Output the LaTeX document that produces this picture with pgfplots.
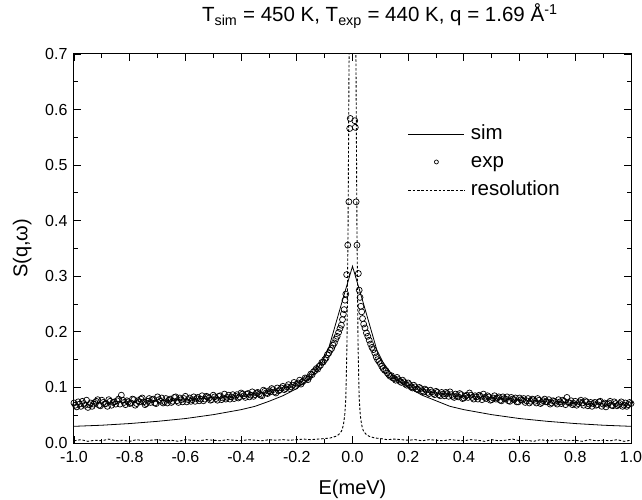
\documentclass[border=0pt]{standalone}
\usepackage{fontspec}
\setmainfont{Liberation Sans}
\usepackage{pgfplots}
\pgfplotsset{compat=1.18}
\pgfplotsset{
  linelegend/.style={legend image code/.code={\draw[##1] (0pt,0pt) -- (56pt,0pt);}},
  marklegend/.style={legend image code/.code={\draw[##1, mark size=2pt] plot coordinates {(28pt,0pt)};}},
  expstyle/.style={only marks, mark=o, mark size=3pt, mark options={black, line width=0.7pt}},
}
\begin{document}
\begin{tikzpicture}
\path[use as bounding box] (-74pt,-57pt) rectangle (568pt,443pt);
\begin{axis}[
  scale only axis, width=557pt, height=389pt,
  xmin=-1, xmax=1, ymin=0, ymax=0.7,
  xtick={-1,-0.8,-0.6,-0.4,-0.2,0,0.2,0.4,0.6,0.8,1},
  ytick={0,0.1,0.2,0.3,0.4,0.5,0.6,0.7},
  minor x tick num=1, minor y tick num=1,
  tick align=inside,
  major tick length=7pt, minor tick length=4pt,
  every tick/.style={black, line width=0.9pt},
  axis line style={line width=1pt},
  /pgf/number format/assume math mode=true,
  xticklabel style={/pgf/number format/.cd, fixed, fixed zerofill, precision=1, /tikz/.cd, yshift=-5pt},
  yticklabel style={/pgf/number format/.cd, fixed, fixed zerofill, precision=1, /tikz/.cd, xshift=-3pt},
  ticklabel style={font=\fontsize{16}{19}\selectfont},
  xlabel={E(meV)}, ylabel={S(q,ω)},
  label style={font=\fontsize{20}{24}\selectfont},
  xlabel style={at={(axis description cs:0.5,-0.118)}, anchor=center},
  ylabel style={at={(axis description cs:-0.093,0.5)}, anchor=center},
  title={T\textsubscript{sim} = 450 K, T\textsubscript{exp} = 440 K, q = 1.69 Å\textsuperscript{-1}},
  title style={at={(axis description cs:0.549,1.082)}, anchor=center, font=\fontsize{20.5}{24}\selectfont},
  legend style={at={(axis description cs:0.5996,0.7224)}, anchor=west, draw=none, fill=none,
    inner sep=0pt, outer sep=0pt,
    font=\fontsize{20.5}{24}\selectfont, row sep=9pt, column sep=0pt,
    nodes={inner ysep=0pt, inner xsep=6pt, text height=15pt, text depth=4pt}},
  legend cell align=left,
]
\addplot[black, line width=0.8pt, linelegend] coordinates {
(-1.00,0.030) (-0.9,0.032) (-0.8,0.035) (-0.7,0.039) (-0.6,0.044) (-0.5,0.051)
(-0.4,0.060) (-0.35,0.066) (-0.3,0.075) (-0.25,0.085) (-0.2,0.098) (-0.164,0.112)
(-0.14,0.125) (-0.11,0.145) (-0.087,0.168) (-0.06,0.215) (-0.03,0.267) (0,0.318)
(0.03,0.267) (0.06,0.215) (0.087,0.168) (0.11,0.145) (0.14,0.124) (0.164,0.112)
(0.2,0.100) (0.25,0.086) (0.3,0.076) (0.35,0.066) (0.4,0.060) (0.5,0.051)
(0.6,0.044) (0.7,0.039) (0.8,0.035) (0.9,0.032) (1.0,0.030)
};
\addlegendentry{sim}
\addplot[expstyle, marklegend] coordinates {
(-1.00,0.072) (-0.99,0.065) (-0.98,0.070) (-0.97,0.075) (-0.96,0.068) (-0.95,0.064)
(-0.94,0.072) (-0.93,0.070) (-0.92,0.075) (-0.91,0.068) (-0.90,0.077) (-0.89,0.070)
(-0.88,0.066) (-0.87,0.075) (-0.86,0.073) (-0.85,0.070) (-0.84,0.079) (-0.83,0.086)
(-0.82,0.073) (-0.81,0.076) (-0.80,0.071) (-0.79,0.079) (-0.78,0.068) (-0.77,0.076)
(-0.76,0.079) (-0.75,0.074) (-0.74,0.071) (-0.73,0.080) (-0.72,0.078) (-0.71,0.072)
(-0.70,0.083) (-0.69,0.075) (-0.68,0.072) (-0.67,0.080) (-0.66,0.077) (-0.65,0.073)
(-0.64,0.082) (-0.63,0.076) (-0.62,0.081) (-0.61,0.074) (-0.60,0.084) (-0.59,0.078)
(-0.58,0.075) (-0.57,0.083) (-0.56,0.080) (-0.55,0.076) (-0.54,0.085) (-0.53,0.079)
(-0.52,0.083) (-0.51,0.077) (-0.50,0.086) (-0.49,0.080) (-0.48,0.084) (-0.47,0.078)
(-0.46,0.088) (-0.45,0.082) (-0.44,0.079) (-0.43,0.087) (-0.42,0.084) (-0.41,0.081)
(-0.40,0.090) (-0.39,0.085) (-0.38,0.088) (-0.37,0.083) (-0.36,0.092) (-0.35,0.087)
(-0.34,0.091) (-0.33,0.086) (-0.32,0.095) (-0.31,0.090) (-0.30,0.094) (-0.29,0.098)
(-0.28,0.092) (-0.27,0.099) (-0.26,0.096) (-0.25,0.102) (-0.24,0.098) (-0.23,0.105)
(-0.22,0.101) (-0.21,0.109) (-0.20,0.106) (-0.19,0.113) (-0.18,0.110) (-0.17,0.117)
(-0.16,0.114) (-0.15,0.124) (-0.14,0.128) (-0.13,0.134) (-0.12,0.138) (-0.11,0.145)
(-0.10,0.150) (-0.09,0.159) (-0.08,0.167) (-0.07,0.176) (-0.06,0.187) (-0.05,0.199)
(-0.04,0.212) (-0.036,0.222) (-0.033,0.232) (-0.030,0.240) (-0.027,0.257) (-0.024,0.268)
(-0.021,0.303) (-0.017,0.356) (-0.013,0.434) (-0.010,0.566) (-0.008,0.584)
(0.008,0.580) (0.010,0.568) (0.013,0.434) (0.016,0.356) (0.021,0.305) (0.024,0.275)
(0.027,0.262) (0.030,0.246) (0.033,0.236) (0.036,0.224) (0.04,0.214) (0.05,0.198)
(0.06,0.185) (0.07,0.172) (0.08,0.162) (0.09,0.150) (0.10,0.143) (0.11,0.134)
(0.12,0.130) (0.13,0.123) (0.14,0.121) (0.15,0.116) (0.16,0.118) (0.17,0.111)
(0.18,0.113) (0.19,0.106) (0.20,0.108) (0.21,0.101) (0.22,0.104) (0.23,0.097)
(0.24,0.100) (0.25,0.094) (0.26,0.097) (0.27,0.091) (0.28,0.095) (0.29,0.089)
(0.30,0.093) (0.31,0.087) (0.32,0.091) (0.33,0.085) (0.34,0.089) (0.35,0.092)
(0.36,0.084) (0.37,0.088) (0.38,0.083) (0.39,0.087) (0.40,0.081) (0.41,0.086)
(0.42,0.090) (0.43,0.082) (0.44,0.085) (0.45,0.079) (0.46,0.084) (0.47,0.088)
(0.48,0.080) (0.49,0.083) (0.50,0.078) (0.51,0.085) (0.52,0.081) (0.53,0.077)
(0.54,0.083) (0.55,0.079) (0.56,0.076) (0.57,0.082) (0.58,0.078) (0.59,0.074)
(0.60,0.081) (0.61,0.077) (0.62,0.073) (0.63,0.080) (0.64,0.075) (0.65,0.078)
(0.66,0.072) (0.67,0.077) (0.68,0.073) (0.69,0.079) (0.70,0.074) (0.71,0.070)
(0.72,0.076) (0.73,0.073) (0.74,0.078) (0.75,0.071) (0.76,0.075) (0.77,0.082)
(0.78,0.072) (0.79,0.069) (0.80,0.075) (0.81,0.071) (0.82,0.077) (0.83,0.068)
(0.84,0.074) (0.85,0.070) (0.86,0.066) (0.87,0.073) (0.88,0.069) (0.89,0.075)
(0.90,0.070) (0.91,0.065) (0.92,0.072) (0.93,0.068) (0.94,0.074) (0.95,0.067)
(0.96,0.071) (0.97,0.066) (0.98,0.072) (0.99,0.069) (1.00,0.071)
};
\addlegendentry{exp}
\addplot[black, line width=0.9pt, dash pattern=on 2.5pt off 1.8pt, linelegend] coordinates {
(-1.000,0.004) (-0.975,0.006) (-0.950,0.003) (-0.925,0.005) (-0.900,0.004) (-0.875,0.007)
(-0.850,0.004) (-0.825,0.005) (-0.800,0.003) (-0.775,0.006) (-0.750,0.004) (-0.725,0.005)
(-0.700,0.006) (-0.675,0.004) (-0.650,0.005) (-0.625,0.003) (-0.600,0.006) (-0.575,0.005)
(-0.550,0.004) (-0.525,0.006) (-0.500,0.005) (-0.475,0.004) (-0.450,0.006) (-0.425,0.005)
(-0.400,0.004) (-0.375,0.006) (-0.350,0.005) (-0.325,0.004) (-0.300,0.006) (-0.275,0.005)
(-0.250,0.006) (-0.225,0.005) (-0.200,0.006) (-0.175,0.007) (-0.150,0.006) (-0.125,0.007)
(-0.100,0.008) (-0.080,0.009) (-0.060,0.012) (-0.050,0.015) (-0.040,0.021) (-0.036,0.026)
(-0.032,0.035) (-0.028,0.050) (-0.024,0.080) (-0.020,0.173) (-0.016,0.386) (-0.012,0.720)
(-0.008,1.120) (-0.004,1.464) (0,1.600) (0.004,1.464) (0.008,1.120) (0.012,0.720)
(0.016,0.386) (0.020,0.173) (0.024,0.080) (0.028,0.050) (0.032,0.035) (0.036,0.026)
(0.040,0.021) (0.050,0.015) (0.060,0.012) (0.080,0.009) (0.100,0.008) (0.125,0.006)
(0.150,0.007) (0.175,0.006) (0.200,0.005) (0.225,0.006) (0.250,0.004) (0.275,0.006)
(0.300,0.005) (0.325,0.004) (0.350,0.006) (0.375,0.005) (0.400,0.004) (0.425,0.006)
(0.450,0.005) (0.475,0.003) (0.500,0.006) (0.525,0.004) (0.550,0.005) (0.575,0.007)
(0.600,0.004) (0.625,0.005) (0.650,0.003) (0.675,0.006) (0.700,0.004) (0.725,0.005)
(0.750,0.006) (0.775,0.004) (0.800,0.005) (0.825,0.003) (0.850,0.006) (0.875,0.004)
(0.900,0.005) (0.925,0.004) (0.950,0.006) (0.975,0.003) (1.000,0.005)
};
\addlegendentry{resolution}
\addplot[expstyle, forget plot] coordinates {
(-0.995,0.068) (-0.985,0.074) (-0.975,0.066) (-0.965,0.071) (-0.955,0.077) (-0.945,0.069)
(-0.935,0.066) (-0.925,0.073) (-0.915,0.078) (-0.905,0.067) (-0.895,0.073) (-0.885,0.071)
(-0.875,0.078) (-0.865,0.068) (-0.855,0.074) (-0.845,0.076) (-0.835,0.070) (-0.825,0.077)
(-0.815,0.069) (-0.805,0.074) (-0.795,0.072) (-0.785,0.078) (-0.775,0.071) (-0.765,0.074)
(-0.755,0.081) (-0.745,0.069) (-0.735,0.075) (-0.725,0.073) (-0.715,0.079) (-0.705,0.071)
(-0.695,0.078) (-0.685,0.081) (-0.675,0.074) (-0.665,0.072) (-0.655,0.079) (-0.645,0.075)
(-0.635,0.083) (-0.625,0.073) (-0.615,0.078) (-0.605,0.080) (-0.595,0.074) (-0.585,0.081)
(-0.575,0.078) (-0.565,0.075) (-0.555,0.082) (-0.545,0.079) (-0.535,0.076) (-0.525,0.084)
(-0.515,0.081) (-0.505,0.078) (-0.495,0.083) (-0.485,0.077) (-0.475,0.085) (-0.465,0.081)
(-0.455,0.079) (-0.445,0.086) (-0.435,0.083) (-0.425,0.080) (-0.415,0.087) (-0.405,0.083)
(-0.395,0.088) (-0.385,0.082) (-0.375,0.089) (-0.365,0.086) (-0.355,0.084) (-0.345,0.090)
(-0.335,0.088) (-0.325,0.085) (-0.315,0.093) (-0.305,0.089) (-0.295,0.092) (-0.285,0.096)
(-0.275,0.090) (-0.265,0.094) (-0.255,0.099) (-0.245,0.096) (-0.235,0.101) (-0.225,0.098)
(-0.215,0.104) (-0.205,0.102) (-0.195,0.108) (-0.185,0.106) (-0.175,0.112) (-0.165,0.116)
(-0.155,0.119) (-0.145,0.123) (-0.135,0.130) (-0.125,0.133) (-0.115,0.140) (-0.105,0.146)
(-0.095,0.153) (-0.085,0.162) (-0.075,0.170) (-0.065,0.180) (-0.055,0.192) (-0.045,0.206)
(0.045,0.207) (0.055,0.192) (0.065,0.178) (0.075,0.168) (0.085,0.155) (0.095,0.147)
(0.105,0.138) (0.115,0.131) (0.125,0.126) (0.135,0.120) (0.145,0.117) (0.155,0.113)
(0.165,0.114) (0.175,0.109) (0.185,0.110) (0.195,0.104) (0.205,0.105) (0.215,0.099)
(0.225,0.101) (0.235,0.096) (0.245,0.098) (0.255,0.092) (0.265,0.095) (0.275,0.089)
(0.285,0.092) (0.295,0.087) (0.305,0.091) (0.315,0.085) (0.325,0.088) (0.335,0.091)
(0.345,0.084) (0.355,0.087) (0.365,0.082) (0.375,0.085) (0.385,0.089) (0.395,0.080)
(0.405,0.084) (0.415,0.082) (0.425,0.086) (0.435,0.079) (0.445,0.083) (0.455,0.086)
(0.465,0.078) (0.475,0.082) (0.485,0.085) (0.495,0.077) (0.505,0.081) (0.515,0.079)
(0.525,0.083) (0.535,0.076) (0.545,0.080) (0.555,0.083) (0.565,0.075) (0.575,0.079)
(0.585,0.081) (0.595,0.074) (0.605,0.078) (0.615,0.080) (0.625,0.076) (0.635,0.072)
(0.645,0.079) (0.655,0.075) (0.665,0.080) (0.675,0.071) (0.685,0.076) (0.695,0.074)
(0.705,0.078) (0.715,0.072) (0.725,0.075) (0.735,0.070) (0.745,0.074) (0.755,0.077)
(0.765,0.069) (0.775,0.073) (0.785,0.076) (0.795,0.071) (0.805,0.068) (0.815,0.074)
(0.825,0.072) (0.835,0.076) (0.845,0.067) (0.855,0.073) (0.865,0.071) (0.875,0.068)
(0.885,0.074) (0.895,0.066) (0.905,0.072) (0.915,0.070) (0.925,0.075) (0.935,0.067)
(0.945,0.071) (0.955,0.069) (0.965,0.074) (0.975,0.068) (0.985,0.066) (0.995,0.073)
};
\end{axis}
\end{tikzpicture}
\end{document}
